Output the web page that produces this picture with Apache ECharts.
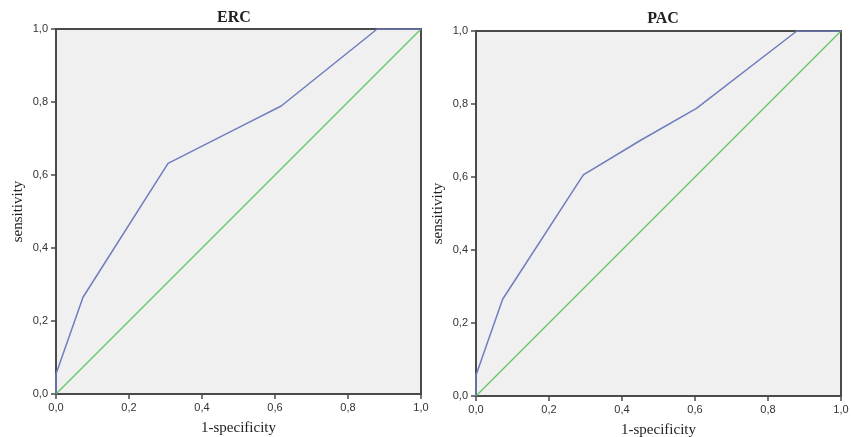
<!DOCTYPE html>
<html>
<head>
<meta charset="utf-8">
<script src="https://cdn.jsdelivr.net/npm/echarts@6/dist/echarts.min.js"></script>
<style>
  html, body { margin: 0; padding: 0; background: #fff; }
  #chart { width: 851px; height: 437px; }
</style>
</head>
<body>
<div id="chart"></div>
<script>
// ROC curves: [1-specificity, sensitivity]
var ercRoc = [[0, 0], [0, 0.055], [0.074, 0.265], [0.307, 0.632], [0.5, 0.73], [0.617, 0.789], [0.88, 1], [1, 1]]
var pacRoc = [[0, 0], [0, 0.057], [0.073, 0.265], [0.294, 0.606], [0.45, 0.7], [0.604, 0.788], [0.879, 1], [1, 1]]
var refLine = [[0, 0], [1, 1]]
var tickLabels = ['0,0', '0,2', '0,4', '0,6', '0,8', '1,0']
var titles = ['ERC', 'PAC']
var xName = '1-specificity'
var yName = 'sensitivity'

var chart = echarts.init(document.getElementById('chart'))

function fmt (v) {
  return tickLabels[Math.round(v / 0.2)]
}

function makeX (gridIndex) {
  return {
    gridIndex: gridIndex,
    type: 'value',
    min: 0,
    max: 1,
    interval: 0.2,
    name: xName,
    nameLocation: 'middle',
    nameGap: 27,
    nameTextStyle: { fontFamily: 'Liberation Serif', fontSize: 15, color: '#222' },
    axisLine: { lineStyle: { color: '#4a4a4a', width: 2 } },
    axisTick: { show: true, length: 5, lineStyle: { color: '#4a4a4a', width: 1.5 } },
    axisLabel: { formatter: fmt, fontFamily: 'Liberation Sans', fontSize: 11, color: '#333', margin: 8 },
    splitLine: { show: false }
  }
}

function makeY (gridIndex) {
  return {
    gridIndex: gridIndex,
    type: 'value',
    min: 0,
    max: 1,
    interval: 0.2,
    name: yName,
    nameLocation: 'middle',
    nameGap: 30,
    nameTextStyle: { fontFamily: 'Liberation Serif', fontSize: 15, color: '#222' },
    axisLine: { lineStyle: { color: '#4a4a4a', width: 2 } },
    axisTick: { show: true, length: 5, lineStyle: { color: '#4a4a4a', width: 1.5 } },
    axisLabel: { formatter: fmt, fontFamily: 'Liberation Sans', fontSize: 11, color: '#333', margin: 8 },
    splitLine: { show: false }
  }
}

var lineBlue = '#6f7dbf'
var lineGreen = '#62c462'

chart.setOption({
  animation: false,
  title: [
    {
      text: titles[0],
      left: 229,
      top: 5,
      textAlign: 'center',
      textStyle: { fontFamily: 'Liberation Serif', fontWeight: 'bold', fontSize: 16, color: '#222' }
    },
    {
      text: titles[1],
      left: 658,
      top: 6,
      textAlign: 'center',
      textStyle: { fontFamily: 'Liberation Serif', fontWeight: 'bold', fontSize: 16, color: '#222' }
    }
  ],
  grid: [
    {
      left: 56, top: 29, width: 365, height: 365, outerBoundsMode: 'none',
      show: true, backgroundColor: '#f0f0f0', borderColor: '#4a4a4a', borderWidth: 2
    },
    {
      left: 476, top: 31, width: 365, height: 365, outerBoundsMode: 'none',
      show: true, backgroundColor: '#f0f0f0', borderColor: '#4a4a4a', borderWidth: 2
    }
  ],
  xAxis: [makeX(0), makeX(1)],
  yAxis: [makeY(0), makeY(1)],
  series: [
    {
      type: 'line', xAxisIndex: 0, yAxisIndex: 0, data: refLine,
      symbol: 'none', lineStyle: { color: lineGreen, width: 1.3 }, z: 3
    },
    {
      type: 'line', xAxisIndex: 0, yAxisIndex: 0, data: ercRoc,
      symbol: 'none', lineStyle: { color: lineBlue, width: 1.5 }, z: 4
    },
    {
      type: 'line', xAxisIndex: 1, yAxisIndex: 1, data: refLine,
      symbol: 'none', lineStyle: { color: lineGreen, width: 1.3 }, z: 3
    },
    {
      type: 'line', xAxisIndex: 1, yAxisIndex: 1, data: pacRoc,
      symbol: 'none', lineStyle: { color: lineBlue, width: 1.5 }, z: 4
    }
  ]
})
</script>
</body>
</html>
